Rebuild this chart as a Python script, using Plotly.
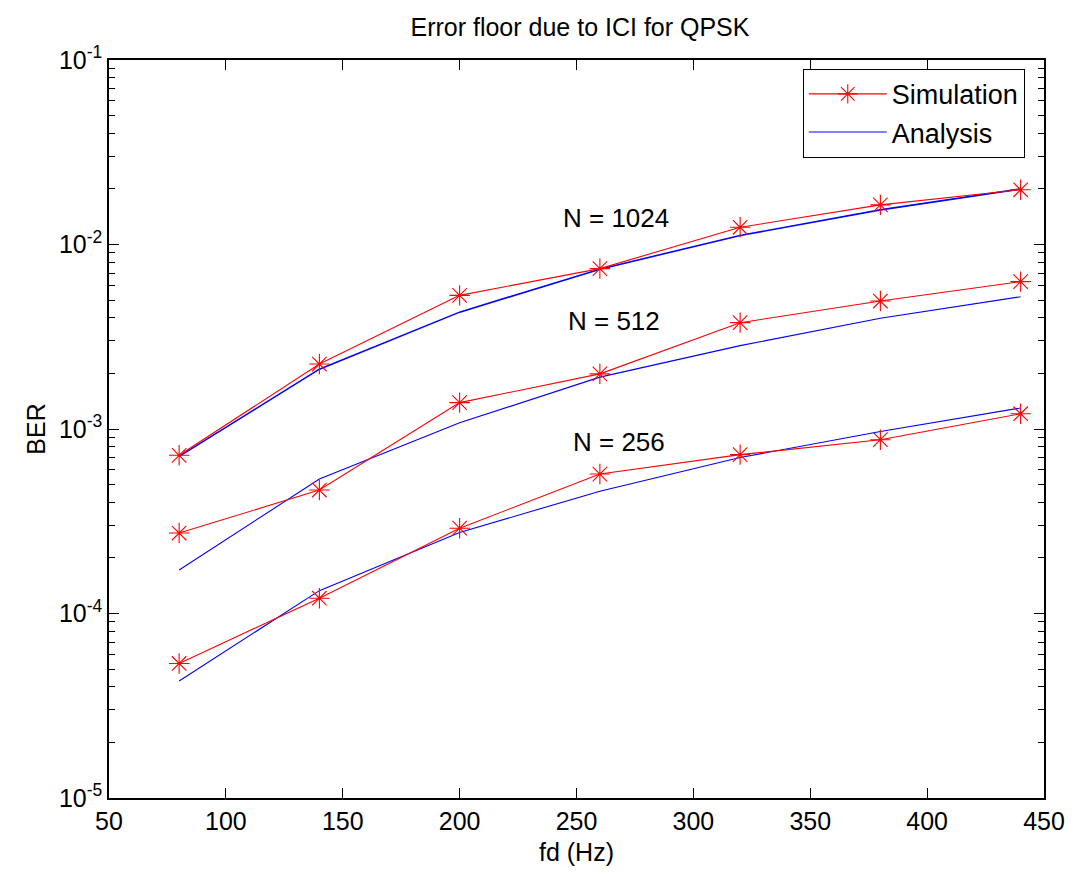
import numpy as np
import plotly.graph_objects as go

# Doppler frequency (Hz)
fd = [80, 140, 200, 260, 320, 380, 440]

# Simulated BER per FFT size
sim_1024 = [7.2e-4, 2.25e-3, 5.3e-3, 7.4e-3, 1.24e-2, 1.64e-2, 1.98e-2]
sim_512 = [2.73e-4, 4.67e-4, 1.39e-3, 1.99e-3, 3.77e-3, 4.94e-3, 6.29e-3]
sim_256 = [5.36e-5, 1.21e-4, 2.9e-4, 5.7e-4, 7.26e-4, 8.75e-4, 1.21e-3]

# Analytical BER per FFT size
ana_1024 = [7.1e-4, 2.11e-3, 4.3e-3, 7.35e-3, 1.12e-2, 1.54e-2, 2.0e-2]
ana_512 = [1.72e-4, 5.36e-4, 1.08e-3, 1.91e-3, 2.83e-3, 3.98e-3, 5.21e-3]
ana_256 = [4.31e-5, 1.33e-4, 2.75e-4, 4.6e-4, 7.0e-4, 9.7e-4, 1.30e-3]

# Curve labels and where they sit (fd, BER)
curve_labels = ["N = 1024", "N = 512", "N = 256"]
label_fd = [267, 266, 268]
label_ber = [1.40e-2, 3.86e-3, 8.45e-4]

x_ticks = [50, 100, 150, 200, 250, 300, 350, 400, 450]
y_ticks = [1e-5, 1e-4, 1e-3, 1e-2, 1e-1]
y_tick_text = ["10<sup>-5</sup>", "10<sup>-4</sup>", "10<sup>-3</sup>",
               "10<sup>-2</sup>", "10<sup>-1</sup>"]

FONT = "Liberation Sans, Arial, Helvetica, sans-serif"
RED = "#ff0000"
BLUE = "#0000ff"

fig = go.Figure()

sims = [sim_1024, sim_512, sim_256]
anas = [ana_1024, ana_512, ana_256]

for i, (s, a) in enumerate(zip(sims, anas)):
    fig.add_trace(go.Scatter(
        x=fd, y=a, mode="lines", name="Analysis",
        line=dict(color=BLUE, width=1.6 if i == 0 else 1.1),
        showlegend=False, legendrank=2,
    ))
    fig.add_trace(go.Scatter(
        x=fd, y=s, mode="lines+markers", name="Simulation",
        line=dict(color=RED, width=1.1),
        marker=dict(symbol="asterisk-open", size=17,
                    line=dict(color=RED, width=1.1)),
        showlegend=(i == 0), legendrank=1,
    ))

# legend entry for the analytical curves
fig.add_trace(go.Scatter(
    x=[None], y=[None], mode="lines", name="Analysis",
    line=dict(color=BLUE, width=1.1), showlegend=True, legendrank=2,
))

for txt, xv, yv in zip(curve_labels, label_fd, label_ber):
    fig.add_annotation(x=xv, y=np.log10(yv), text=txt, showarrow=False,
                       xref="x", yref="y",
                       font=dict(family=FONT, size=26, color="black"))

fig.update_layout(
    width=1077, height=874,
    margin=dict(l=109, r=24, t=60, b=76),
    paper_bgcolor="white", plot_bgcolor="white",
    font=dict(family=FONT, size=24, color="black"),
    title=dict(text="Error floor due to ICI for QPSK",
               x=0.5385, xanchor="center", y=0.969, yanchor="middle",
               font=dict(family=FONT, size=25, color="black")),
    legend=dict(x=0.742, y=0.988, xanchor="left", yanchor="top",
                bgcolor="white", bordercolor="black", borderwidth=1,
                font=dict(family=FONT, size=27, color="black"),
                tracegroupgap=0, itemwidth=78),
    showlegend=True,
)

fig.update_xaxes(
    range=[50, 450], tickvals=x_ticks, ticktext=[str(v) for v in x_ticks],
    ticks="inside", ticklen=10, tickwidth=1, tickcolor="black",
    showline=True, linecolor="black", linewidth=1.5, mirror="ticks",
    showgrid=False, zeroline=False,
    tickfont=dict(family=FONT, size=25, color="black"),
    title=dict(text="fd (Hz)", font=dict(family=FONT, size=25), standoff=10),
)

fig.update_yaxes(
    type="log", range=[-5, -1],
    tickvals=y_ticks, ticktext=y_tick_text,
    ticks="inside", ticklen=10, tickwidth=1, tickcolor="black",
    showline=True, linecolor="black", linewidth=1.5, mirror="ticks",
    showgrid=False, zeroline=False,
    tickfont=dict(family=FONT, size=25, color="black"),
    minor=dict(ticks="inside", ticklen=6, tickcolor="black", dtick="D1",
               showgrid=False),
    title=dict(text="BER", font=dict(family=FONT, size=25), standoff=6),
)

fig.write_html("out.html")
